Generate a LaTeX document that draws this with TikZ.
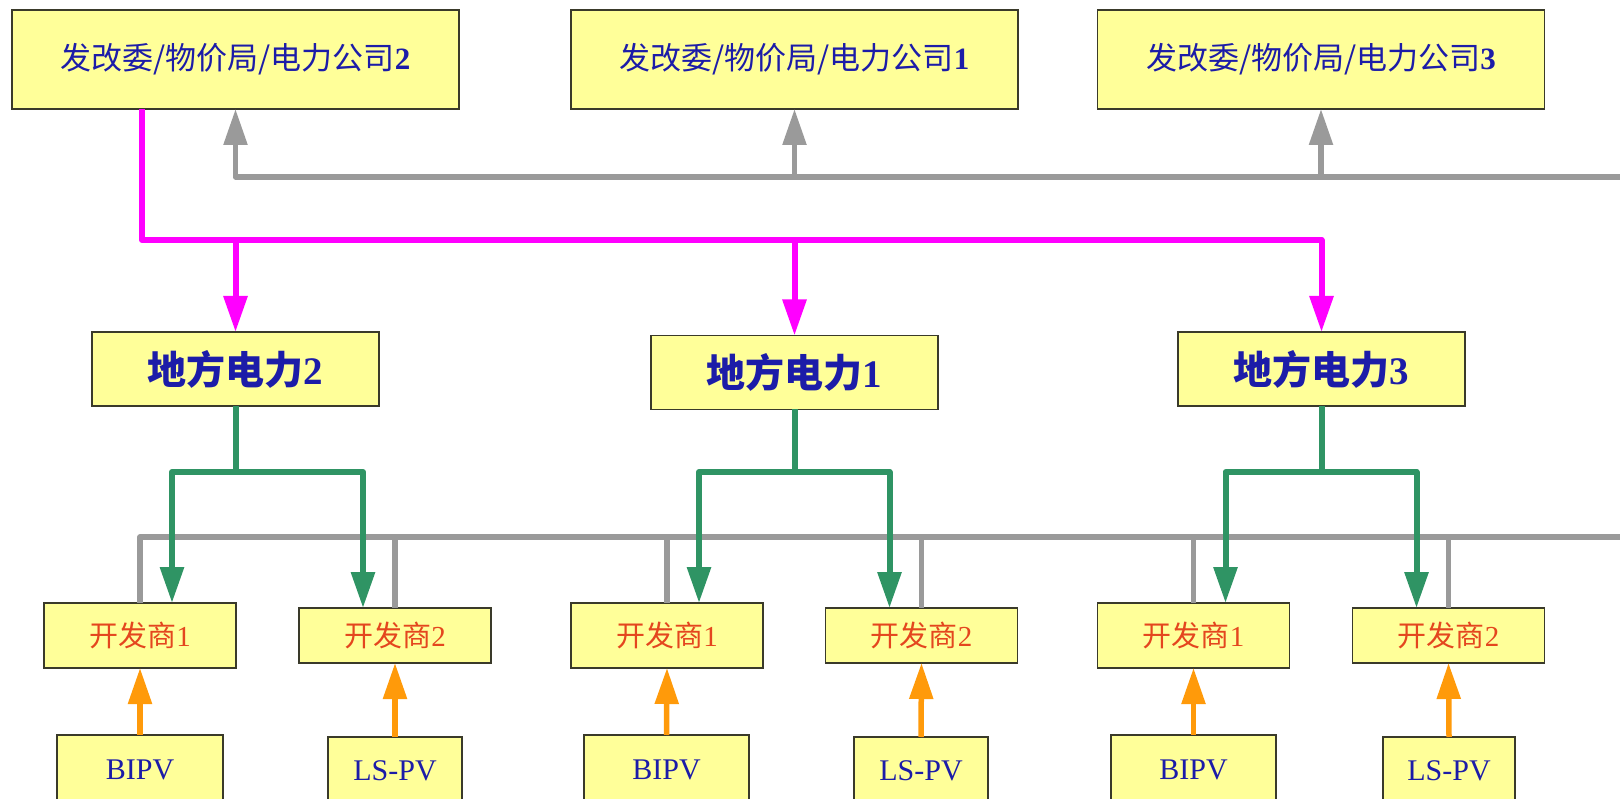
\documentclass[tikz,border=0pt]{standalone}
\usepackage{fontspec}
\setmainfont{Liberation Serif}
\newfontfamily\cjk{Noto Sans CJK SC}
\usetikzlibrary{arrows.meta,calc}
\definecolor{boxfill}{HTML}{FFFF99}
\definecolor{boxedge}{HTML}{3A3A2A}
\definecolor{textblue}{HTML}{1C1CA8}
\definecolor{textred}{HTML}{E4461E}
\definecolor{lnmag}{HTML}{FF00FF}
\definecolor{lngray}{HTML}{9A9A9A}
\definecolor{lngreen}{HTML}{2F9464}
\definecolor{lnorange}{HTML}{FF9A0A}
\begin{document}
\begin{tikzpicture}[x=1pt,y=-1pt,
  box/.style={draw=boxedge, fill=boxfill, line width=1.5pt, inner sep=0pt, outer sep=0pt},
  topbox/.style={box, minimum width=447pt, minimum height=99pt, text=textblue, font=\fontsize{31}{31}\selectfont},
  midbox/.style={box, minimum width=287pt, minimum height=74pt, text=textblue, font=\fontsize{39}{39}\selectfont},
  devbox/.style={box, minimum width=192pt, minimum height=#1, text=textred, font=\fontsize{29}{29}\selectfont},
  pvbox/.style={box, minimum width=#1, minimum height=76pt, text=textblue, font=\fontsize{30}{30}\selectfont},
  tip/.style={-{Triangle[width=23pt,length=36pt]}},
  magline/.style={draw=lnmag, line width=6pt, line join=round},
  grayline/.style={draw=lngray, line width=5.5pt, line join=round},
  greenline/.style={draw=lngreen, line width=6pt, line join=round},
  orangeline/.style={draw=lnorange, line width=5.5pt, line join=round},
]
\useasboundingbox (0,0) rectangle (1620,799);
\clip (0,0) rectangle (1620,799);

% top row
\node[topbox] (t2) at (235.5,59.5) {{\cjk 发改委/物价局/电力公司}\textbf{2}};
\node[topbox] (t1) at (794.5,59.5) {{\cjk 发改委/物价局/电力公司}\textbf{1}};
\node[topbox] (t3) at (1321,59.5) {{\cjk 发改委/物价局/电力公司}\textbf{3}};

% middle row
\node[midbox] (l2) at (235.5,369) {{\cjk\bfseries 地方电力}\textbf{2}};
\node[midbox] (l1) at (794.5,372.5) {{\cjk\bfseries 地方电力}\textbf{1}};
\node[midbox] (l3) at (1321.5,369) {{\cjk\bfseries 地方电力}\textbf{3}};

% developers
\node[devbox=65pt] (d21) at (140,635.5) {{\cjk 开发商}1};
\node[devbox=55pt] (d22) at (395,635.5) {{\cjk 开发商}2};
\node[devbox=65pt] (d11) at (667,635.5) {{\cjk 开发商}1};
\node[devbox=55pt] (d12) at (921.5,635.5) {{\cjk 开发商}2};
\node[devbox=65pt] (d31) at (1193.5,635.5) {{\cjk 开发商}1};
\node[devbox=55pt] (d32) at (1448.5,635.5) {{\cjk 开发商}2};

% PV boxes
\node[pvbox=166pt] (b21) at (140,773) {\raisebox{7pt}{BIPV}};
\node[pvbox=134pt] (b22) at (395,775) {\raisebox{8pt}{LS-PV}};
\node[pvbox=165pt] (b11) at (666.5,773) {\raisebox{7pt}{BIPV}};
\node[pvbox=134pt] (b12) at (921,775) {\raisebox{8pt}{LS-PV}};
\node[pvbox=165pt] (b31) at (1193.5,773) {\raisebox{7pt}{BIPV}};
\node[pvbox=132pt] (b32) at (1449,775) {\raisebox{8pt}{LS-PV}};

% magenta distribution
\coordinate (ms) at (142,240);
\draw[magline,tip] (t2.south -| ms) -- (ms) -| (l3.north);
\draw[magline,tip] (l2.north |- ms) -- (l2.north);
\draw[magline,tip] (l1.north |- ms) -- (l1.north);

% gray top bus
\coordinate (gt) at (1625,177);
\draw[grayline,tip] (gt) -| (t2.south);
\draw[grayline,tip] (t1.south |- gt) -- (t1.south);
\draw[grayline,tip] (t3.south |- gt) -- (t3.south);

% gray bottom bus
\coordinate (gb) at (1625,537);
\draw[grayline] (gb) -| (d21.north);
\foreach \d in {d22,d11,d12,d31,d32}
  \draw[grayline] (\d.north |- gb) -- (\d.north);

% green branches
\coordinate (gy) at (0,472);
\foreach \l/\a/\b in {l2/d21/d22, l1/d11/d12, l3/d31/d32} {
  \draw[greenline] (\l.south) -- (\l.south |- gy);
  \draw[greenline,tip] (\l.south |- gy) -| ([xshift=32pt]\a.north);
  \draw[greenline,tip] (\l.south |- gy) -| ([xshift=-32pt]\b.north);
}

% orange arrows
\foreach \b/\d in {b21/d21, b22/d22, b11/d11, b12/d12, b31/d31, b32/d32}
  \draw[orangeline,tip] (\b.north) -- (\d.south);
\end{tikzpicture}
\end{document}
